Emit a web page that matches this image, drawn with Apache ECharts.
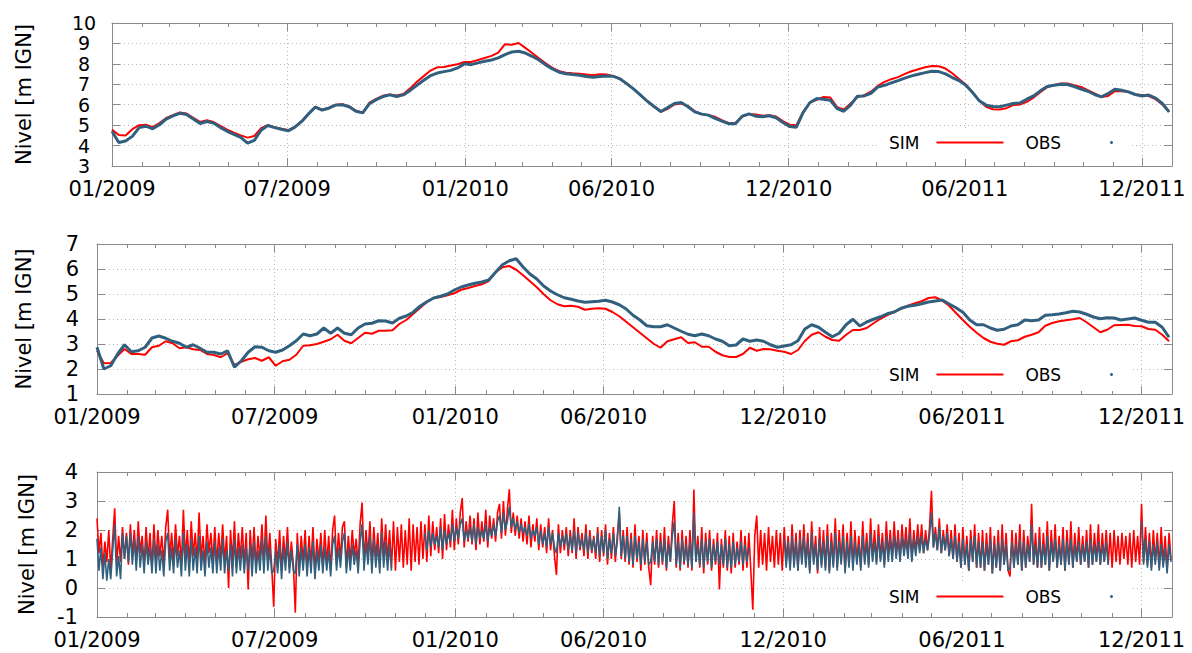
<!DOCTYPE html>
<html><head><meta charset="utf-8">
<script src="https://cdn.jsdelivr.net/npm/echarts@6/dist/echarts.min.js"></script>
<style>html,body{margin:0;padding:0;background:#fff}#c{width:1192px;height:653px}</style>
</head><body><div id="c"></div>
<script>
// ---------------- data ----------------
const START = Date.UTC(2009, 0, 1);
const END = Date.UTC(2012, 0, 1);
const DAY = 86400000;
const STEP_TOP = 7;     // days between samples, panels 1 and 2
const STEP_BOTTOM = 2;  // days between samples, panel 3
const majorTickLabels = ['01/2009','07/2009','01/2010','06/2010','12/2010','06/2011','12/2011'];
const yRange1 = [3, 10];
const yRange2 = [1, 7];
const yRange3 = [-1, 4];
const yTitle = 'Nivel [m IGN]';
const seriesNames = ['SIM', 'OBS'];

const sim1 = [4.78,4.52,4.49,4.80,5.00,5.02,4.90,5.10,5.35,5.49,5.62,5.57,5.36,5.16,5.24,5.15,4.96,4.78,4.63,4.50,4.39,4.47,4.85,5.00,4.90,4.82,4.76,4.92,5.20,5.57,5.90,5.76,5.85,6.00,6.02,5.92,5.70,5.62,6.10,6.29,6.44,6.50,6.45,6.52,6.80,7.12,7.40,7.67,7.83,7.85,7.92,7.98,8.09,
8.09,8.19,8.29,8.39,8.55,8.96,8.94,9.02,8.78,8.53,8.27,8.03,7.80,7.64,7.57,7.54,7.52,7.48,7.44,7.49,7.48,7.39,7.26,7.02,6.76,6.47,6.17,5.91,5.65,5.80,6.01,6.06,5.94,5.68,5.55,5.49,5.41,5.24,5.10,5.10,5.41,5.54,5.52,5.46,5.49,5.42,5.20,5.02,5.00,5.65,6.11,6.24,
6.38,6.35,5.88,5.77,6.06,6.37,6.47,6.64,6.92,7.12,7.25,7.35,7.51,7.64,7.74,7.83,7.90,7.88,7.77,7.54,7.26,6.99,6.60,6.19,5.90,5.78,5.77,5.83,5.98,6.01,6.14,6.35,6.61,6.86,6.95,7.04,7.04,6.95,6.87,6.71,6.55,6.38,6.43,6.66,6.66,6.63,6.50,6.47,6.42,6.27,6.01,5.65];
const obs1 = [4.70,4.15,4.22,4.45,4.88,4.95,4.82,5.02,5.30,5.45,5.58,5.52,5.30,5.08,5.18,5.10,4.88,4.70,4.55,4.40,4.12,4.25,4.75,4.98,4.88,4.80,4.72,4.90,5.18,5.55,5.88,5.74,5.83,5.98,6.00,5.90,5.68,5.60,6.05,6.25,6.40,6.48,6.40,6.48,6.70,6.95,7.20,7.42,7.55,7.62,7.68,7.80,8.00,
7.96,8.05,8.13,8.19,8.29,8.45,8.58,8.62,8.53,8.37,8.19,7.95,7.75,7.59,7.51,7.48,7.44,7.38,7.35,7.38,7.41,7.39,7.26,7.02,6.76,6.47,6.17,5.91,5.67,5.86,6.06,6.11,5.90,5.65,5.54,5.49,5.33,5.20,5.07,5.07,5.44,5.55,5.44,5.41,5.46,5.36,5.13,4.93,4.90,5.62,6.11,6.30,
6.27,6.22,5.81,5.68,5.98,6.42,6.43,6.56,6.86,6.95,7.07,7.18,7.30,7.41,7.49,7.57,7.64,7.62,7.51,7.33,7.18,6.95,6.60,6.19,5.98,5.91,5.90,5.98,6.06,6.09,6.27,6.43,6.68,6.89,6.95,7.00,6.99,6.89,6.76,6.66,6.50,6.38,6.55,6.76,6.71,6.63,6.50,6.43,6.47,6.32,6.06,5.65];

const sim2 = [2.73,2.23,2.24,2.53,2.80,2.60,2.60,2.57,2.87,2.93,3.11,3.03,2.83,2.87,2.79,2.76,2.60,2.56,2.47,2.63,2.16,2.29,2.39,2.44,2.33,2.47,2.13,2.31,2.37,2.57,2.93,2.95,3.00,3.09,3.19,3.37,3.13,3.03,3.24,3.45,3.41,3.53,3.53,3.55,3.80,3.96,4.20,4.44,4.68,4.84,4.88,4.95,5.03,
5.17,5.24,5.32,5.39,5.52,5.87,6.07,6.12,5.97,5.75,5.51,5.27,4.99,4.75,4.59,4.51,4.53,4.49,4.37,4.41,4.43,4.41,4.28,4.11,3.89,3.67,3.45,3.23,3.01,2.85,3.11,3.19,3.27,3.04,3.07,2.89,2.89,2.69,2.55,2.48,2.48,2.60,2.85,2.73,2.80,2.79,2.73,2.69,2.60,2.76,3.12,3.37,
3.47,3.29,3.16,3.13,3.37,3.56,3.56,3.64,3.83,4.01,4.16,4.28,4.41,4.53,4.63,4.71,4.84,4.87,4.73,4.53,4.24,3.96,3.69,3.45,3.24,3.09,3.01,2.97,3.11,3.15,3.29,3.37,3.47,3.73,3.84,3.91,3.95,3.99,4.04,3.87,3.67,3.47,3.57,3.75,3.76,3.77,3.72,3.71,3.60,3.57,3.37,3.11];
const obs2 = [2.87,2.00,2.13,2.60,2.97,2.69,2.73,2.87,3.24,3.32,3.23,3.11,3.03,2.87,2.97,2.83,2.67,2.67,2.60,2.73,2.07,2.33,2.67,2.89,2.87,2.73,2.67,2.76,2.93,3.13,3.40,3.33,3.40,3.64,3.43,3.64,3.43,3.37,3.64,3.80,3.83,3.93,3.92,3.84,4.03,4.12,4.27,4.51,4.69,4.84,4.91,5.00,5.16,
5.28,5.36,5.43,5.48,5.56,5.87,6.17,6.33,6.41,6.08,5.80,5.60,5.32,5.12,4.97,4.85,4.79,4.72,4.67,4.69,4.71,4.75,4.68,4.57,4.40,4.15,3.96,3.73,3.69,3.69,3.77,3.64,3.51,3.39,3.33,3.40,3.33,3.20,3.11,2.93,2.96,3.20,3.11,3.16,3.11,2.97,2.87,2.92,2.97,3.13,3.60,3.77,
3.67,3.47,3.29,3.43,3.77,3.99,3.72,3.88,3.99,4.09,4.21,4.28,4.43,4.51,4.55,4.61,4.68,4.72,4.76,4.60,4.45,4.27,3.96,3.77,3.77,3.64,3.55,3.59,3.72,3.77,3.96,3.93,3.96,4.15,4.17,4.20,4.25,4.31,4.28,4.19,4.08,4.01,4.05,4.04,3.96,4.00,4.04,3.95,3.87,3.87,3.67,3.27];

// panel 3: one value every 2 days, 15 values per line (30 days)
const sim3 = [
2.4,1.2,1.9,0.7,1.6,0.9,2.0,0.6,1.7,2.75,0.8,1.8,0.9,2.1,1.0,
1.9,0.8,2.2,1.1,2.0,0.9,2.3,1.2,1.8,0.8,2.1,1.0,1.9,0.7,2.2,
0.9,2.0,1.1,1.8,0.8,2.1,2.7,1.0,1.9,0.9,2.2,1.1,1.8,0.8,2.7,
1.0,2.0,0.8,2.3,1.1,1.9,0.9,2.6,1.0,1.8,0.8,2.2,1.2,1.9,0.9,
2.1,0.8,1.9,1.0,2.2,0.9,1.8,0.0,2.0,0.9,2.3,0.7,1.9,1.0,2.1,
0.8,1.9,-0.05,2.0,0.9,2.1,0.7,1.8,1.0,2.2,0.8,2.5,0.9,1.9,0.7,
-0.65,1.7,0.8,2.0,0.6,1.8,0.9,2.1,0.7,1.6,0.8,-0.85,1.9,0.7,1.8,
0.9,2.0,0.6,1.8,0.8,2.1,0.5,1.7,0.9,1.9,0.7,2.0,0.8,1.8,0.6,
2.0,2.5,0.8,1.9,1.0,2.1,2.3,0.7,1.8,0.9,2.0,1.1,1.7,0.8,2.2,
2.95,0.9,2.0,1.1,2.3,0.8,2.1,1.0,1.9,0.7,2.4,1.0,2.2,0.9,2.0,
0.7,2.3,0.6,2.1,0.9,2.2,0.7,2.0,0.8,2.4,0.6,2.2,0.9,2.1,0.8,
2.3,1.0,2.2,0.9,2.5,1.1,2.3,1.3,2.1,1.2,2.4,1.0,2.55,1.3,2.2,
1.4,2.7,1.3,2.4,1.5,2.6,3.1,1.4,2.3,1.6,2.5,1.5,2.4,1.3,2.6,
1.5,2.3,1.6,2.7,1.4,2.5,1.7,2.4,1.6,2.6,2.9,1.7,3.0,1.8,2.7,
3.4,1.9,2.6,1.8,2.5,1.7,2.4,1.6,2.3,1.5,2.5,1.4,2.2,1.6,2.4,
1.3,2.2,1.4,2.1,1.2,2.4,1.3,2.0,1.1,0.45,2.2,1.2,2.0,1.3,2.1,
1.1,2.0,1.2,2.4,1.0,2.1,1.3,1.9,1.1,2.2,1.0,2.0,1.2,1.8,1.0,
2.1,0.9,2.0,1.1,2.2,0.8,1.9,1.0,2.1,0.9,1.8,2.6,1.0,2.0,0.9,
2.1,0.8,1.9,0.7,2.2,0.9,1.8,0.6,2.0,0.8,1.9,0.7,0.1,1.8,0.8,
2.0,0.7,1.9,0.8,2.1,0.6,1.8,0.9,2.2,3.0,0.7,1.9,0.6,2.0,0.8,
1.8,0.7,2.0,0.6,3.4,0.9,1.8,0.7,2.1,0.5,1.9,0.8,2.0,0.6,1.7,
0.8,1.9,-0.05,1.7,0.7,2.0,0.6,1.8,0.5,1.9,0.7,1.6,0.8,2.0,0.6,
1.8,0.7,1.9,0.6,-0.75,1.8,2.5,0.7,2.0,0.8,1.9,0.6,2.1,0.9,1.8,
0.7,2.0,0.8,1.9,0.6,2.1,0.9,1.8,0.7,2.2,0.8,1.9,0.6,2.0,0.9,
2.2,0.8,1.9,0.6,2.3,0.9,1.8,0.5,2.1,0.8,2.0,0.7,2.2,0.6,1.9,
0.8,2.4,0.7,2.0,0.9,2.2,0.6,1.9,0.8,2.3,0.7,2.0,0.9,1.8,0.7,
2.3,0.9,1.9,0.8,2.4,1.0,2.0,0.9,2.2,1.0,1.9,0.8,2.3,1.1,2.0,
1.0,2.3,1.1,2.0,1.0,2.2,1.2,2.1,1.1,2.4,1.0,2.0,1.2,2.2,1.3,
2.2,1.2,2.0,1.3,2.1,3.35,1.4,2.1,1.3,2.4,1.2,2.0,1.3,2.2,1.1,
2.0,1.0,2.2,0.9,1.9,0.7,2.1,0.8,1.8,0.6,2.0,0.9,2.2,0.7,1.9,
0.7,2.0,0.6,1.9,0.8,2.1,0.5,1.8,0.7,2.0,0.6,2.2,0.8,1.9,0.6,
0.4,2.0,0.7,1.9,0.8,2.2,0.6,2.0,0.7,1.8,0.9,2.9,0.8,1.9,0.7,
2.1,0.7,1.9,0.8,2.3,0.6,2.0,0.9,2.2,0.7,1.8,0.8,2.1,0.6,2.0,
0.8,2.3,0.7,1.9,0.9,2.1,0.8,1.8,0.9,2.0,0.7,2.2,0.8,1.9,0.9,
2.2,0.8,1.9,0.9,2.0,0.8,1.9,0.7,2.0,0.9,1.8,0.8,1.9,1.0,1.8,
0.8,1.9,0.7,2.0,0.9,1.8,0.8,2.9,0.9,2.1,0.8,1.9,0.7,2.0,0.9,
1.9,0.7,2.1,0.8,1.8,0.6,1.9,1.0];
const obs3 = [
1.7,0.6,1.4,0.3,1.2,0.25,1.0,0.3,1.3,2.2,0.4,1.1,0.3,1.9,1.0,
1.8,0.9,1.9,0.8,1.7,0.6,1.8,0.7,1.5,0.5,1.6,0.8,1.4,0.5,1.7,
0.5,1.5,0.6,1.3,0.4,1.6,1.9,0.6,1.4,0.5,1.7,0.7,1.3,0.4,1.9,
0.6,1.5,0.4,1.7,0.6,1.4,0.5,1.8,0.6,1.3,0.4,1.6,0.7,1.4,0.5,
1.6,0.5,1.4,0.6,1.7,0.5,1.3,0.6,1.5,0.4,1.7,0.5,1.4,0.6,1.5,
0.5,1.4,0.6,1.5,0.4,1.6,0.5,1.3,0.6,1.7,0.5,1.8,0.6,1.4,0.5,
0.6,1.3,0.5,1.5,0.3,1.4,0.6,1.6,0.5,1.3,0.6,0.5,1.5,0.4,1.4,
0.6,1.5,0.4,1.4,0.5,1.6,0.3,1.3,0.6,1.5,0.5,1.4,0.6,1.3,0.4,
1.5,1.8,0.6,1.4,0.7,1.6,1.9,0.5,1.4,0.6,1.5,0.8,1.3,0.5,1.6,
2.2,0.6,1.6,0.8,1.8,0.5,1.7,0.7,1.5,0.5,1.9,0.7,1.6,0.6,1.5,
0.6,null,null,null,null,null,null,null,null,null,null,null,null,null,null,
null,null,1.9,1.3,2.0,1.4,1.9,1.5,1.8,1.4,2.1,1.3,2.0,1.5,1.9,
1.6,2.2,1.6,2.1,1.7,2.2,2.4,1.6,2.0,1.7,2.1,1.6,2.2,1.5,2.1,
1.7,2.0,1.7,2.2,1.6,2.1,1.8,2.2,1.8,2.3,2.5,1.9,2.6,2.0,2.3,
2.8,2.1,2.4,2.0,2.3,1.9,2.2,1.9,2.1,1.8,2.2,1.7,2.0,1.8,2.1,
1.5,2.0,1.5,1.9,1.4,2.1,1.5,1.9,1.4,1.2,1.9,1.4,1.8,1.5,1.9,
1.3,1.8,1.3,2.0,1.2,1.9,1.4,1.7,1.3,1.9,1.2,1.8,1.3,1.7,1.2,
1.9,1.1,1.8,1.2,2.0,1.0,1.7,1.2,1.9,1.1,1.6,2.8,1.1,1.8,1.0,
1.8,0.9,1.7,0.8,1.8,1.0,1.6,0.8,1.7,0.9,1.6,0.8,0.9,1.6,0.9,
1.7,0.8,1.6,0.9,1.7,0.7,1.5,0.9,1.8,2.3,0.8,1.6,0.7,1.7,0.9,
1.5,0.8,1.6,0.7,2.6,0.9,1.5,0.8,1.7,0.7,1.6,0.9,1.7,0.7,1.5,
0.9,1.6,0.8,1.5,0.8,1.7,0.7,1.5,0.7,1.6,0.8,1.4,0.9,1.6,0.8,
1.5,0.9,1.4,null,null,null,null,null,null,null,null,null,null,null,null,
null,null,null,null,null,1.7,0.7,1.6,0.6,1.8,0.7,1.6,0.6,1.7,0.8,
1.8,0.7,1.6,0.5,1.9,0.8,1.5,0.6,1.7,0.7,1.6,0.6,1.8,0.5,1.6,
0.7,1.9,0.6,1.6,0.8,1.8,0.5,1.6,0.7,1.8,0.6,1.6,0.8,1.5,0.6,
1.8,0.8,1.6,0.7,1.9,0.9,1.6,0.8,1.8,0.9,1.6,0.7,1.8,0.9,1.7,
0.9,1.8,1.0,1.7,0.9,1.8,1.1,1.7,1.0,1.9,0.9,1.7,1.1,1.8,1.2,
1.8,1.2,1.7,1.3,1.8,2.6,1.4,1.9,1.3,2.1,1.2,1.8,1.3,1.9,1.1,
1.7,1.0,1.8,0.9,1.6,0.7,1.7,0.8,1.5,0.6,1.7,0.9,1.8,0.7,1.6,
0.7,1.6,0.6,1.5,0.8,1.7,0.5,1.5,0.7,1.6,0.6,1.7,0.8,1.5,0.6,
0.7,1.6,0.7,1.5,0.8,1.7,0.6,1.6,0.7,1.5,0.9,2.2,0.8,1.5,0.7,
1.7,0.7,1.5,0.8,1.8,0.6,1.6,0.9,1.7,0.7,1.5,0.8,1.7,0.6,1.6,
0.8,1.7,0.7,1.5,0.9,1.6,0.8,1.5,0.9,1.6,0.7,1.7,0.8,1.5,0.9,
1.6,0.8,1.5,0.9,1.6,0.8,null,null,null,null,null,null,null,null,null,
null,null,null,null,null,null,null,2.3,0.8,1.7,0.7,1.6,0.6,1.5,0.8,
1.6,0.6,1.5,0.7,1.4,0.5,1.5,0.9];

// ---------------- chart ----------------
const FONT = 'DejaVu Sans';
const RED = '#ff0000';
const BLUE = '#31607f';
const BORDER = '#8a8a8a';
const GRIDC = '#b8b8b8';

const majorTicks = majorTickLabels.map(s => { const [m, y] = s.split('/'); return Date.UTC(+y, +m - 1, 1); });
const minorTicks = [];
for (let t = START, m = 0; t <= END; m++, t = Date.UTC(2009, m, 1)) minorTicks.push(t);

const toXY = (arr, step) => arr.map((v, i) => [START + i * step * DAY, v]);

const grids = [
  {left: 112, right: 20, top: 23, height: 143},
  {left: 97, right: 20, top: 244, height: 150},
  {left: 97, right: 20, top: 472, height: 145}
];
const yRanges = [yRange1, yRange2, yRange3];
const yLabelCfg = [
  {align: 'center', margin: 28, fontSize: 19},
  {align: 'right', margin: 18, fontSize: 21},
  {align: 'right', margin: 19, fontSize: 21}
];
const nameGaps = [78, 63, 60];

const xAxes = [], yAxes = [];
grids.forEach((g, gi) => {
  const base = {gridIndex: gi, type: 'value', min: START, max: END,
    axisLine: {show: false, onZero: false}, axisTick: {show: false}, axisLabel: {show: false}, splitLine: {show: false}};
  const line = {show: true, onZero: false, lineStyle: {color: BORDER, width: 1}};
  const minor = {show: true, inside: true, length: 4, customValues: minorTicks, lineStyle: {color: BORDER}};
  const major = {show: true, inside: true, length: 8, customValues: majorTicks, lineStyle: {color: BORDER}};
  xAxes.push({...base, position: 'bottom', axisLine: line, axisTick: minor});
  xAxes.push({...base, position: 'bottom', axisTick: major,
    axisLabel: {show: true, customValues: majorTicks, fontFamily: FONT, fontSize: 21, lineHeight: 21, color: '#000', margin: 12,
      showMinLabel: true, showMaxLabel: true, hideOverlap: false,
      formatter: v => { const i = majorTicks.indexOf(v); return i >= 0 ? majorTickLabels[i] : ''; }},
    splitLine: {show: true, lineStyle: {color: GRIDC, width: 1, type: [1, 3]}}});
  xAxes.push({...base, position: 'top', axisLine: line, axisTick: minor});
  xAxes.push({...base, position: 'top', axisTick: major});

  const [ymin, ymax] = yRanges[gi];
  const lc = yLabelCfg[gi];
  yAxes.push({gridIndex: gi, type: 'value', position: 'left', min: ymin, max: ymax, interval: 1,
    axisLine: {show: true, onZero: false, lineStyle: {color: BORDER, width: 1}},
    axisTick: {show: true, inside: true, length: 8, lineStyle: {color: BORDER}},
    axisLabel: {fontFamily: FONT, fontSize: lc.fontSize, lineHeight: lc.fontSize, color: '#000',
      align: lc.align, margin: lc.margin, showMinLabel: true, showMaxLabel: true, hideOverlap: false},
    splitLine: {show: true, lineStyle: {color: GRIDC, width: 1, type: [1, 3]}},
    name: yTitle, nameLocation: 'middle', nameGap: nameGaps[gi],
    nameTextStyle: {fontFamily: FONT, fontSize: 21, color: '#000'}});
  yAxes.push({gridIndex: gi, type: 'value', position: 'right', min: ymin, max: ymax, interval: 1,
    axisLine: {show: true, onZero: false, lineStyle: {color: BORDER, width: 1}},
    axisTick: {show: true, inside: true, length: 8, lineStyle: {color: BORDER}},
    axisLabel: {show: false}, splitLine: {show: false}});
});

const panelData = [[sim1, obs1, STEP_TOP], [sim2, obs2, STEP_TOP], [sim3, obs3, STEP_BOTTOM]];
const series = [];
panelData.forEach(([s, o, step], gi) => {
  const wS = gi < 2 ? 2 : 1.6, wO = gi < 2 ? 3 : 1.6;
  series.push({name: seriesNames[0], type: 'line', xAxisIndex: gi * 4, yAxisIndex: gi * 2,
    data: toXY(s, step), showSymbol: false, symbol: 'none', connectNulls: false,
    lineStyle: {color: RED, width: wS}, itemStyle: {color: RED}, z: 2, silent: true});
  series.push({name: seriesNames[1], type: 'line', xAxisIndex: gi * 4, yAxisIndex: gi * 2,
    data: toXY(o, step), showSymbol: false, symbol: 'none', connectNulls: false,
    lineStyle: {color: BLUE, width: wO}, itemStyle: {color: BLUE}, z: 3, silent: true});
});

const legendTops = [128, 360, 582];
const legends = legendTops.map(t => ({
  left: 878, top: t, orient: 'horizontal', align: 'right', selectedMode: false,
  backgroundColor: '#ffffff', padding: [6, 18, 8, 11],
  itemWidth: 67, itemHeight: 3, itemGap: 21,
  textStyle: {fontFamily: FONT, fontSize: 17, color: '#000', padding: [0, 12, 6, 0]},
  data: [
    {name: seriesNames[0], itemStyle: {opacity: 0}},
    {name: seriesNames[1], icon: 'circle'}
  ]
}));

const chart = echarts.init(document.getElementById('c'), null, {renderer: 'svg'});
chart.setOption({
  animation: false,
  backgroundColor: '#ffffff',
  grid: grids,
  xAxis: xAxes,
  yAxis: yAxes,
  legend: legends,
  series: series
});
</script></body></html>
